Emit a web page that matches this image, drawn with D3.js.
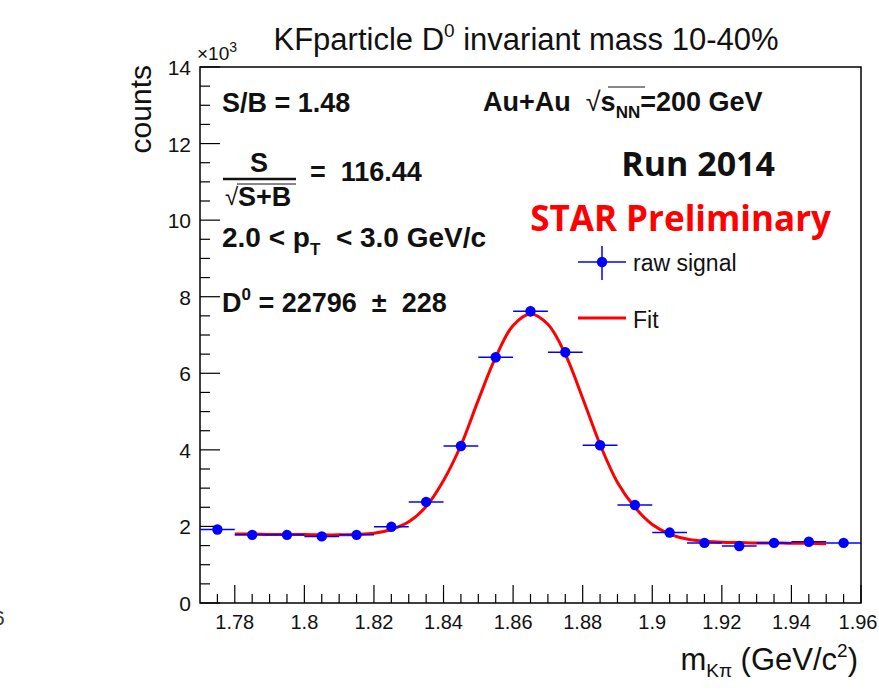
<!DOCTYPE html>
<html>
<head>
<meta charset="utf-8">
<script src="https://cdn.jsdelivr.net/npm/d3@7"></script>
<style>
  body { margin: 0; background: #fff; }
  text { font-family: "Liberation Sans", Arial, Helvetica, sans-serif; }
</style>
</head>
<body>
<svg width="879" height="691"></svg>
<script>
// bin centres (GeV/c^2) and raw signal counts (x10^3)
var binCenters = [1.775, 1.785, 1.795, 1.805, 1.815, 1.825, 1.835, 1.845, 1.855, 1.865,
                  1.875, 1.885, 1.895, 1.905, 1.915, 1.925, 1.935, 1.945, 1.955];
var counts = [1.92, 1.78, 1.78, 1.74, 1.78, 1.99, 2.64, 4.10, 6.42, 7.62,
              6.55, 4.12, 2.56, 1.84, 1.57, 1.49, 1.57, 1.60, 1.57];
var countErr = [0.10, 0.10, 0.10, 0.10, 0.10, 0.10, 0.11, 0.12, 0.13, 0.14,
                0.13, 0.12, 0.11, 0.10, 0.10, 0.10, 0.10, 0.10, 0.10];
var binHalfWidth = 0.005;

// fit curve
var fitX = [1.780, 1.785, 1.790, 1.795, 1.800, 1.805, 1.810, 1.815, 1.820, 1.825,
            1.830, 1.835, 1.840, 1.845, 1.850, 1.855, 1.860, 1.865, 1.870, 1.875,
            1.880, 1.885, 1.890, 1.895, 1.900, 1.905, 1.910, 1.915, 1.920, 1.925,
            1.930, 1.935, 1.940, 1.945, 1.950];
var fitY = [1.80, 1.80, 1.79, 1.79, 1.79, 1.78, 1.78, 1.79, 1.82, 1.92,
            2.12, 2.52, 3.20, 4.12, 5.30, 6.42, 7.25, 7.55, 7.28, 6.50,
            5.35, 4.14, 3.15, 2.50, 2.05, 1.80, 1.67, 1.61, 1.59, 1.58,
            1.57, 1.57, 1.56, 1.56, 1.55];

var xTicks = [1.78, 1.80, 1.82, 1.84, 1.86, 1.88, 1.90, 1.92, 1.94, 1.96];
var xTickLabels = ["1.78", "1.8", "1.82", "1.84", "1.86", "1.88", "1.9", "1.92", "1.94", "1.96"];
var yTicks = [0, 2, 4, 6, 8, 10, 12, 14];

var svg = d3.select("svg");
var pLeft = 200, pRight = 861, pTop = 67, pBottom = 603;

var x = d3.scaleLinear().domain([1.77, 1.96]).range([pLeft, pRight]);
var y = d3.scaleLinear().domain([0, 14]).range([pBottom, pTop]);

// frame
svg.append("rect")
    .attr("x", pLeft).attr("y", pTop)
    .attr("width", pRight - pLeft).attr("height", pBottom - pTop)
    .attr("fill", "none").attr("stroke", "#000").attr("stroke-width", 1.5);

// y axis ticks (inside)
var yMinor = d3.range(0, 14.01, 0.5);
svg.append("g").selectAll("line").data(yMinor).enter().append("line")
    .attr("x1", pLeft).attr("x2", function(d) { return pLeft + (d % 2 === 0 ? 20 : 10); })
    .attr("y1", function(d) { return y(d); }).attr("y2", function(d) { return y(d); })
    .attr("stroke", "#000").attr("stroke-width", 1.2);

svg.append("g").selectAll("text").data(yTicks).enter().append("text")
    .attr("x", pLeft - 9).attr("y", function(d) { return y(d) + 8; })
    .attr("text-anchor", "end").attr("font-size", 21).attr("fill", "#111")
    .text(function(d) { return d; });

svg.append("text").attr("x", 197).attr("y", 60).attr("font-size", 19).attr("fill", "#111")
    .text("×10").append("tspan").attr("dy", -8).attr("font-size", 14).text("3");

// x axis ticks (inside)
var xMinor = d3.range(0, 38).map(function(i) { return 1.775 + i * 0.005; });
svg.append("g").selectAll("line").data(xMinor).enter().append("line")
    .attr("x1", function(d) { return x(d); }).attr("x2", function(d) { return x(d); })
    .attr("y1", pBottom)
    .attr("y2", function(d) { return pBottom - (Math.abs(Math.round(d * 1000) % 20) === 0 ? 18 : 9); })
    .attr("stroke", "#000").attr("stroke-width", 1.2);

svg.append("g").selectAll("text").data(xTicks).enter().append("text")
    .attr("x", function(d) { return Math.min(x(d), 858); }).attr("y", pBottom + 26)
    .attr("text-anchor", "middle").attr("font-size", 20).attr("fill", "#111")
    .text(function(d, i) { return xTickLabels[i]; });

// axis titles
var xt = svg.append("text").attr("x", 858).attr("y", 670).attr("text-anchor", "end")
    .attr("font-size", 31).attr("fill", "#111");
xt.append("tspan").text("m");
xt.append("tspan").attr("dy", 7).attr("font-size", 19).text("Kπ");
xt.append("tspan").attr("dy", -7).text(" (GeV/c");
xt.append("tspan").attr("dy", -13).attr("font-size", 19).text("2");
xt.append("tspan").attr("dy", 13).text(")");

svg.append("text").attr("transform", "translate(151,65) rotate(-90)")
    .attr("text-anchor", "end").attr("font-size", 30).attr("fill", "#111").text("counts");

// title
var tt = svg.append("text").attr("x", 526).attr("y", 50).attr("text-anchor", "middle")
    .attr("font-size", 31).attr("fill", "#111");
tt.append("tspan").text("KFparticle D");
tt.append("tspan").attr("dy", -13).attr("font-size", 19).text("0");
tt.append("tspan").attr("dy", 13).text(" invariant mass 10-40%");

// cut-off glyph at far left
svg.append("text").attr("x", -7).attr("y", 625).attr("font-size", 21).attr("fill", "#333").text("6");

// fit
var line = d3.line()
    .x(function(d, i) { return x(fitX[i]); })
    .y(function(d) { return y(d); })
    .curve(d3.curveCatmullRom);
svg.append("path").datum(fitY).attr("d", line)
    .attr("fill", "none").attr("stroke", "#ff0000").attr("stroke-width", 3);

// data points
var pts = svg.append("g");
binCenters.forEach(function(c, i) {
    pts.append("line")
        .attr("x1", x(c - binHalfWidth)).attr("x2", Math.min(x(c + binHalfWidth), pRight))
        .attr("y1", y(counts[i])).attr("y2", y(counts[i]))
        .attr("stroke", "#0000ff").attr("stroke-width", 1.5);
    pts.append("line")
        .attr("x1", x(c)).attr("x2", x(c))
        .attr("y1", y(counts[i] - countErr[i])).attr("y2", y(counts[i] + countErr[i]))
        .attr("stroke", "#0000ff").attr("stroke-width", 1.5);
    pts.append("circle").attr("cx", x(c)).attr("cy", y(counts[i])).attr("r", 5.2)
        .attr("fill", "#0000ff");
});

// annotations (left)
var fs = 27;
svg.append("text").attr("x", 222).attr("y", 112).attr("font-size", fs).attr("font-weight", "bold")
    .attr("fill", "#111").text("S/B = 1.48");

svg.append("text").attr("x", 259).attr("y", 172).attr("text-anchor", "middle").attr("font-size", fs)
    .attr("font-weight", "bold").attr("fill", "#111").text("S");
svg.append("line").attr("x1", 223).attr("x2", 296).attr("y1", 179).attr("y2", 179)
    .attr("stroke", "#111").attr("stroke-width", 2.5);
svg.append("text").attr("x", 225).attr("y", 205).attr("font-size", 24).attr("fill", "#111").text("√");
svg.append("line").attr("x1", 237).attr("x2", 296).attr("y1", 184).attr("y2", 184)
    .attr("stroke", "#111").attr("stroke-width", 1);
svg.append("text").attr("x", 238).attr("y", 206).attr("font-size", fs).attr("font-weight", "bold")
    .attr("fill", "#111").text("S+B");
svg.append("text").attr("x", 310).attr("y", 181).attr("font-size", fs).attr("font-weight", "bold")
    .attr("fill", "#111").style("white-space", "pre").text("=  116.44");

var pt = svg.append("text").attr("x", 222).attr("y", 247).attr("font-size", 28).attr("font-weight", "bold")
    .attr("fill", "#111").style("white-space", "pre");
pt.append("tspan").text("2.0 < p");
pt.append("tspan").attr("dy", 8).attr("font-size", 17).text("T");
pt.append("tspan").attr("dy", -8).text("  < 3.0 GeV/c");

var dt = svg.append("text").attr("x", 222).attr("y", 312).attr("font-size", fs).attr("font-weight", "bold")
    .attr("fill", "#111").style("white-space", "pre");
dt.append("tspan").text("D");
dt.append("tspan").attr("dy", -12).attr("font-size", 17).text("0");
dt.append("tspan").attr("dy", 12).text(" = 22796  ±  228");

// annotations (right)
var au = svg.append("text").attr("x", 483).attr("y", 111).attr("font-size", fs).attr("font-weight", "bold")
    .attr("fill", "#111").style("white-space", "pre");
au.append("tspan").text("Au+Au  ");
au.append("tspan").attr("font-weight", "normal").text("√");
au.append("tspan").text("s");
au.append("tspan").attr("dy", 7).attr("font-size", 17).text("NN");
au.append("tspan").attr("dy", -7).text("=200 GeV");
svg.append("line").attr("x1", 608).attr("x2", 645).attr("y1", 87).attr("y2", 87)
    .attr("stroke", "#111").attr("stroke-width", 1);

svg.append("text").attr("x", 775).attr("y", 176).attr("text-anchor", "end")
    .style("font-family", "'Open Sans', sans-serif")
    .attr("font-size", 34).attr("font-weight", "bold").attr("fill", "#111").text("Run 2014");
svg.append("text").attr("x", 831).attr("y", 231).attr("text-anchor", "end")
    .style("font-family", "'Open Sans', sans-serif")
    .attr("font-size", 35).attr("font-weight", "bold").attr("fill", "#ff0000").text("STAR Preliminary");

// legend
svg.append("line").attr("x1", 578).attr("x2", 626).attr("y1", 262).attr("y2", 262)
    .attr("stroke", "#0000ff").attr("stroke-width", 1.5);
svg.append("line").attr("x1", 602).attr("x2", 602).attr("y1", 246).attr("y2", 280)
    .attr("stroke", "#0000ff").attr("stroke-width", 1.5);
svg.append("circle").attr("cx", 602).attr("cy", 262).attr("r", 5.2).attr("fill", "#0000ff");
svg.append("text").attr("x", 633).attr("y", 271).attr("font-size", 23).attr("fill", "#111").text("raw signal");

svg.append("line").attr("x1", 578).attr("x2", 626).attr("y1", 318).attr("y2", 318)
    .attr("stroke", "#ff0000").attr("stroke-width", 3);
svg.append("text").attr("x", 633).attr("y", 328).attr("font-size", 23).attr("fill", "#111").text("Fit");
</script>
</body>
</html>
